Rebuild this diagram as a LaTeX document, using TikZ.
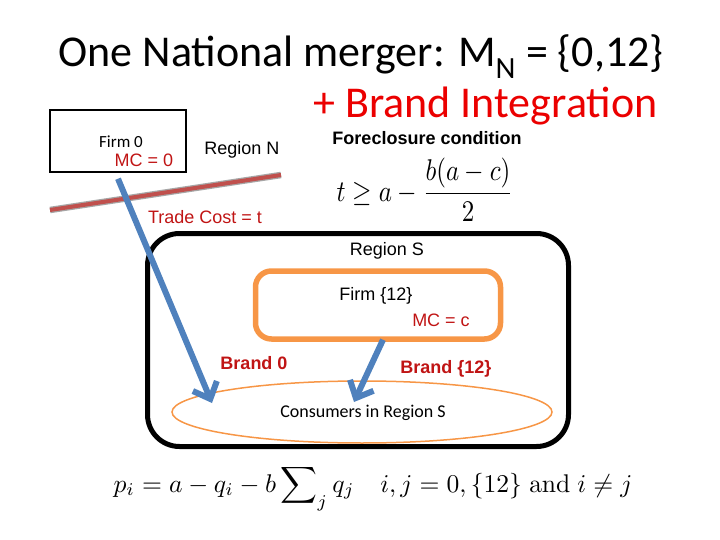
\documentclass[tikz,border=0pt]{standalone}
\usepackage[no-math]{fontspec}
\setmainfont{Carlito}
\newfontfamily\arial{Liberation Sans}
\usetikzlibrary{arrows.meta,shapes.geometric}
\definecolor{trade}{RGB}{192,80,77}
\definecolor{flow}{RGB}{79,129,189}
\definecolor{firmor}{RGB}{247,150,70}
\definecolor{mcred}{RGB}{192,20,20}
\definecolor{titred}{RGB}{235,0,0}
\tikzset{
  arl/.style={font=\arial\fontsize{18}{20}\selectfont},
  arlred/.style={arl,text=mcred},
  brand/.style={font=\arial\bfseries\fontsize{18}{20}\selectfont,text=mcred},
  cal/.style={font=\fontsize{18}{20}\selectfont},
  flowarrow/.style={flow,line width=6pt,-{Straight Barb[length=14pt,width=26pt]}},
}
\begin{document}
\begin{tikzpicture}[x=1pt,y=-1pt]
    \useasboundingbox (0,0) rectangle (720,540);
    \node[anchor=base] (title) at (361,67){\fontsize{44}{48}\selectfont One National merger: M\textsubscript{N} = \{0,12\}};
    \node[anchor=base east,text=titred] (integ) at (661,118){\fontsize{44}{48}\selectfont + Brand Integration};
    % region N
    \node[draw,line width=1.5pt,minimum width=136pt,minimum height=62pt] (firm0) at (118,141){};
    \node[font=\fontsize{17}{19}\selectfont] (firm0lbl) at (121,142){Firm 0};
    \node[arlred] (mc0) at (144,160){MC = 0};
    \node[arl] (regN) at (242,150){Region N};
    \coordinate (tcl) at (50,210);
    \coordinate (tcr) at (281,175);
    \draw[gray!70,line width=6.5pt] (tcl)--(tcr);
    \draw[trade,line width=4pt] (tcl)--(tcr);
    \node[arlred] (tcost) at (205,217){Trade Cost = t};
    \node[font=\arial\bfseries\fontsize{18}{20}\selectfont] (fcond) at (427,138){Foreclosure condition};
    \node[xscale=2.5,yscale=3] (fform) at (425,190){$\displaystyle t\geq a-\frac{b(a-c)}{2}$};
    % region S
    \node[draw,line width=5pt,rounded corners=32pt,minimum width=421pt,minimum height=213pt] (regS) at (358,340){};
    \node[arl] (regSlbl) at (387,251){Region S};
    \node[draw=firmor,line width=5.5pt,rounded corners=16pt,minimum width=245pt,minimum height=68pt] (firm12) at (378,305){};
    \node[arl] (firm12lbl) at (376,296){Firm \{12\}};
    \node[arlred] (mcc) at (441,320){MC = c};
    \node[brand] (br0) at (254,363){Brand 0};
    \node[brand] (br12) at (446,369){Brand \{12\}};
    \node[draw=firmor,line width=1.5pt,ellipse,minimum width=380pt,minimum height=62pt] (cons) at (362,412){};
    \node[cal] (conslbl) at (363,413){Consumers in Region S};
    \coordinate (tip0) at (212,403);
    \coordinate (tip12) at (354,402);
    \draw[flowarrow] (firm0.south) ++(0,6)--(tip0);
    \draw[flowarrow] (firm12.south) ++(5,-2)--(tip12);
    \node[scale=2.56] (demand) at (373,488){$p_i=a-q_i-b\displaystyle\sum\nolimits_j q_j\quad i,j=0,\{12\}\;\mathrm{and}\; i\neq j$};
\end{tikzpicture}
\end{document}
